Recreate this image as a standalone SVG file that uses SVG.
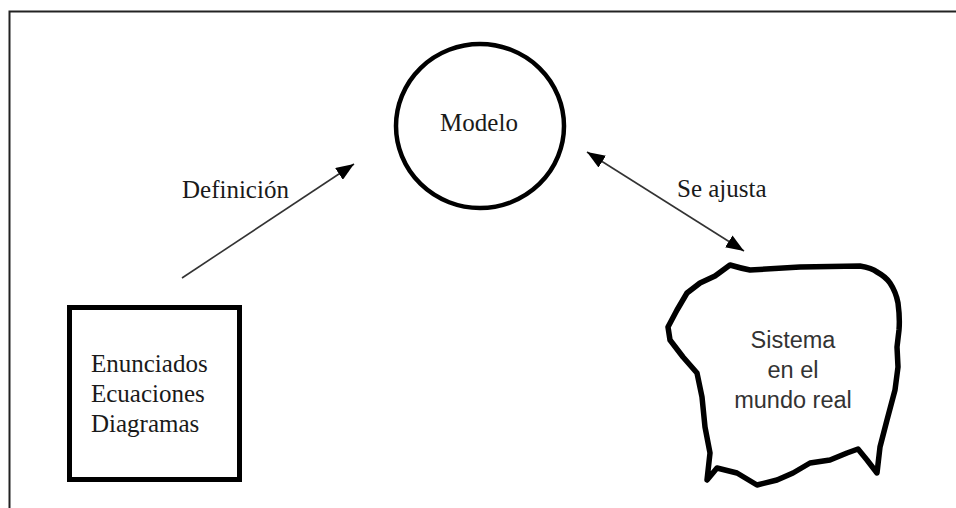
<svg xmlns="http://www.w3.org/2000/svg" width="956" height="508" viewBox="0 0 956 508">
<style>
.serif{font-family:"Liberation Serif","Times New Roman",serif;font-size:25px;fill:#1a1a1a}
.sans{font-family:"Liberation Sans",Arial,sans-serif;font-size:23.5px;fill:#333}
.conn{stroke:#333;stroke-width:1.6;fill:none}
</style>
<defs>
<marker id="ah" viewBox="0 0 18 14" refX="18" refY="7" markerWidth="18" markerHeight="14" markerUnits="userSpaceOnUse" orient="auto-start-reverse">
<path d="M0,0 L18,7 L0,14 z" fill="#000"/>
</marker>
</defs>
<rect width="956" height="508" fill="#fff"/>
<g id="frame">
<path d="M9.5,508 V11.5 H956" fill="none" stroke="#222" stroke-width="2"/>
</g>
<g id="modelo">
<ellipse cx="480" cy="126" rx="84" ry="82" fill="#fff" stroke="#000" stroke-width="4.5"/>
<text class="serif" x="479" y="131" text-anchor="middle">Modelo</text>
</g>
<g id="enunciados">
<rect x="69.5" y="307.5" width="170" height="172" fill="#fff" stroke="#000" stroke-width="5"/>
<text class="serif" x="91" y="372">Enunciados</text>
<text class="serif" x="91" y="402">Ecuaciones</text>
<text class="serif" x="91" y="432">Diagramas</text>
</g>
<g id="sistema">
<path d="M730,265 Q740,268 750,270 L800,267 L860,266 Q872,268 877,272 Q886,277 890,283 Q896,292 898,303 Q900,318 899,330 L897,347 L898,367 L895,390 L887,420 L880,447 L877,473 L867,460 L858,449 L847,453 L830,460 L810,463 L793,473 L777,480 L757,485 L737,473 L717,468 L707,480 L710,453 L705,427 L702,397 L697,373 L683,357 L670,340 L668,327 L677,310 L687,293 L700,283 L715,276 Z" fill="#fff" stroke="#000" stroke-width="5.5" stroke-linejoin="round"/>
<text class="sans" x="793" y="348" text-anchor="middle">Sistema</text>
<text class="sans" x="793" y="378" text-anchor="middle">en el</text>
<text class="sans" x="793" y="408" text-anchor="middle">mundo real</text>
</g>
<g id="connectors">
<line class="conn" x1="182" y1="278" x2="354" y2="164" marker-end="url(#ah)"/>
<line class="conn" x1="587" y1="152" x2="744" y2="251" marker-start="url(#ah)" marker-end="url(#ah)"/>
<text class="serif" x="182" y="198">Definición</text>
<text class="serif" x="677" y="197">Se ajusta</text>
</g>
</svg>
